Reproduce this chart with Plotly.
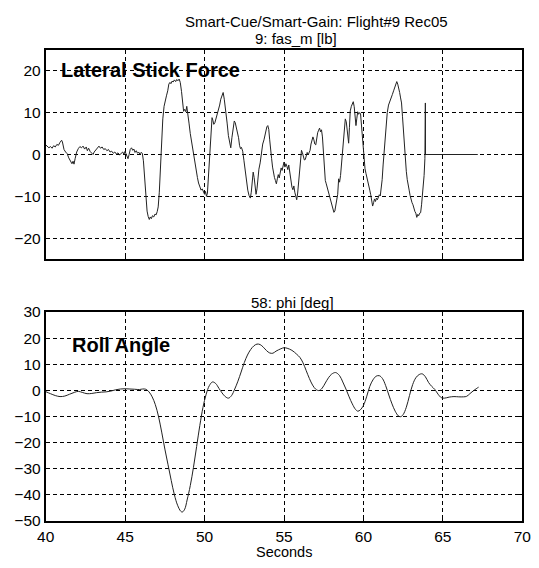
import plotly.graph_objects as go

# ---- data: lateral stick force (lb) ----
force_t = [40.00,40.10,40.20,40.30,40.40,40.50,40.60,40.70,40.80,40.90,41.00,41.05,41.15,41.25,41.35,41.45,41.55,41.65,41.72,41.78,41.85,41.95,
           42.05,42.15,42.25,42.35,42.45,42.55,42.62,42.70,42.80,42.90,42.98,43.05,43.15,43.25,43.35,43.45,43.55,43.65,43.75,43.85,43.95,
           44.05,44.15,44.25,44.35,44.45,44.55,44.65,44.75,44.85,44.92,45.00,45.05,45.12,45.18,45.25,45.32,45.40,45.48,45.55,45.62,45.70,
           45.78,45.85,45.92,46.00,46.08,46.15,46.22,46.30,46.38,46.45,46.52,46.58,46.65,46.72,46.80,46.88,46.95,47.02,47.08,47.15,47.22,
           47.30,47.37,47.45,47.52,47.60,47.68,47.75,47.82,47.88,47.95,48.02,48.10,48.18,48.25,48.32,48.40,48.47,48.55,48.62,48.68,48.75,
           48.82,48.88,48.95,49.02,49.10,49.18,49.25,49.32,49.40,49.48,49.55,49.62,49.70,49.78,49.85,49.92,50.00,50.06,50.12,50.18,50.25,
           50.32,50.40,50.47,50.52,50.58,50.65,50.72,50.80,50.88,50.95,51.02,51.10,51.17,51.24,51.30,51.36,51.42,51.50,51.58,51.65,51.72,
           51.80,51.87,51.93,52.00,52.07,52.14,52.20,52.26,52.32,52.40,52.48,52.56,52.64,52.72,52.80,52.88,52.94,53.00,53.06,53.12,53.18,
           53.24,53.30,53.36,53.42,53.50,53.58,53.66,53.74,53.80,53.86,53.92,53.98,54.04,54.10,54.16,54.22,54.28,54.34,54.40,54.46,54.52,
           54.58,54.64,54.70,54.76,54.82,54.88,54.94,55.00,55.06,55.12,55.18,55.24,55.30,55.36,55.42,55.50,55.56,55.62,55.68,55.74,55.80,
           55.86,55.92,55.98,56.04,56.10,56.16,56.22,56.28,56.34,56.40,56.46,56.52,56.58,56.64,56.70,56.76,56.82,56.88,56.94,57.00,57.06,
           57.12,57.18,57.24,57.30,57.36,57.42,57.48,57.54,57.60,57.66,57.72,57.78,57.84,57.90,57.96,58.02,58.08,58.14,58.20,58.26,58.32,
           58.38,58.44,58.50,58.56,58.62,58.68,58.74,58.80,58.86,58.92,58.97,59.02,59.07,59.12,59.17,59.24,59.30,59.36,59.42,59.48,59.53,
           59.58,59.64,59.70,59.76,59.82,59.88,59.94,59.98,60.04,60.10,60.16,60.22,60.28,60.34,60.40,60.46,60.52,60.58,60.64,60.70,60.76,
           60.82,60.88,60.94,61.00,61.06,61.12,61.18,61.24,61.30,61.36,61.42,61.50,61.58,61.66,61.74,61.82,61.90,61.98,62.04,62.10,62.16,
           62.22,62.28,62.34,62.40,62.46,62.52,62.58,62.64,62.70,62.76,62.82,62.88,62.94,63.00,63.06,63.12,63.18,63.24,63.30,63.36,63.42,
           63.48,63.54,63.60,63.66,63.72,63.77,63.82,63.87,63.90,63.91,67.20]
force_v = [2.3,2.0,1.6,1.9,1.5,2.1,1.8,2.4,2.2,2.9,3.4,3.0,1.2,0.6,0.2,-0.8,-1.5,-2.2,-1.6,-2.3,-1.0,0.6,
           1.4,1.9,1.6,2.0,1.3,1.8,0.9,1.5,0.7,0.2,0.0,0.6,1.1,1.6,2.0,1.5,1.8,1.2,1.4,0.9,1.2,
           0.6,0.8,0.3,0.6,0.1,0.4,-0.1,0.2,0.6,0.0,0.8,0.2,-0.5,-1.0,0.0,1.2,1.6,1.0,1.3,0.5,0.9,
           0.3,0.6,0.1,0.5,0.3,-1.5,-5.0,-10.0,-13.5,-14.8,-15.5,-14.9,-15.3,-14.6,-14.9,-14.2,-14.4,-13.6,-12.5,-9.0,-3.0,
           3.5,8.5,11.5,13.0,14.0,15.2,16.8,17.2,16.9,17.5,17.3,17.8,17.4,17.9,17.6,18.0,17.2,15.0,12.5,10.3,10.8,
           10.2,11.5,9.8,7.5,5.0,3.0,1.5,0.5,-1.5,-3.5,-5.5,-6.8,-7.5,-8.5,-8.2,-9.0,-9.5,-8.8,-10.0,-9.2,-5.0,
           0.5,5.0,8.8,8.2,7.2,7.6,8.5,9.5,10.3,11.8,13.2,14.0,14.8,13.2,11.6,10.0,7.5,4.5,2.5,1.6,4.0,
           7.0,8.0,7.6,6.4,6.0,4.0,2.2,1.4,1.7,0.8,-1.5,-4.0,-6.5,-8.5,-9.8,-10.4,-9.0,-6.5,-4.2,-5.5,-8.0,
           -9.5,-8.2,-5.5,-3.5,-2.0,0.5,2.5,3.5,4.8,5.8,6.6,6.9,6.0,3.5,0.5,-1.0,-3.0,-4.8,-5.5,-6.2,-7.0,
           -5.8,-4.8,-5.6,-4.0,-3.2,-3.8,-2.2,-1.8,-3.0,-2.2,-2.8,-3.6,-2.5,-4.5,-6.0,-7.8,-8.4,-7.5,-9.0,-10.0,-10.8,
           -9.2,-6.5,-3.0,0.2,1.0,0.4,-0.5,-1.3,-1.2,-0.2,0.5,-0.1,0.6,1.0,2.5,3.8,4.2,3.5,2.5,2.3,4.0,
           5.2,5.8,6.3,5.4,5.9,4.2,0.5,-3.5,-6.2,-7.0,-7.8,-8.5,-9.3,-10.2,-11.5,-12.2,-13.0,-13.8,-13.5,-12.0,-11.0,
           -9.5,-5.8,-6.6,-5.0,-2.0,0.2,3.5,6.5,8.5,7.8,6.2,4.5,2.7,6.5,10.4,11.5,12.3,12.6,11.4,9.0,6.9,
           8.5,10.2,9.6,10.0,9.7,7.0,3.0,0.8,-1.5,-3.4,-4.5,-5.4,-6.0,-7.4,-8.5,-9.6,-10.9,-12.3,-11.5,-10.6,-11.2,
           -10.4,-10.8,-10.2,-9.6,-9.9,-8.5,-6.0,-2.5,0.8,4.0,7.0,10.0,11.8,12.8,13.9,14.3,15.2,16.3,17.0,17.4,16.8,
           16.0,14.8,13.5,12.3,9.0,5.0,1.5,-1.5,-4.0,-6.0,-7.0,-8.5,-9.8,-10.8,-11.5,-12.0,-13.1,-13.6,-14.0,-15.0,-14.3,
           -14.6,-14.0,-13.9,-12.0,-9.5,-8.5,-5.0,-1.0,12.3,0.0,0.0]

# ---- data: roll angle (deg) ----
roll_t = [40.0,40.3,40.6,40.9,41.2,41.5,41.8,42.05,42.3,42.6,42.9,43.2,43.5,43.8,44.1,44.4,44.7,45.0,45.3,45.6,45.9,46.1,46.3,
          46.5,46.7,46.9,47.1,47.3,47.5,47.7,47.9,48.1,48.3,48.5,48.6,48.75,48.9,49.1,49.3,49.5,49.7,49.9,50.1,50.3,50.5,50.7,
          50.9,51.1,51.3,51.5,51.7,51.9,52.1,52.3,52.5,52.7,52.9,53.1,53.3,53.5,53.7,53.9,54.1,54.3,54.5,54.8,55.0,55.2,55.5,
          55.8,56.0,56.2,56.4,56.6,56.8,57.0,57.2,57.4,57.6,57.8,58.0,58.25,58.5,58.7,58.9,59.1,59.3,59.5,59.65,59.8,60.0,60.2,
          60.4,60.6,60.8,61.0,61.2,61.4,61.6,61.8,62.0,62.2,62.35,62.5,62.7,62.9,63.1,63.3,63.5,63.7,63.9,64.1,64.3,64.5,64.7,
          64.9,65.1,65.4,65.7,66.0,66.3,66.5,66.7,66.9,67.1,67.25]
roll_v = [-0.5,-1.3,-2.0,-2.4,-2.2,-1.5,-0.8,-0.4,-0.8,-1.3,-1.2,-0.9,-0.7,-0.6,-0.3,0.2,0.5,0.6,0.5,0.4,0.3,0.5,0.4,
          -0.6,-2.5,-5.5,-10.0,-16.0,-22.5,-28.5,-34.5,-40.0,-44.0,-46.3,-46.6,-45.5,-42.0,-36.5,-29.5,-21.5,-13.5,-6.5,-1.5,1.8,3.2,2.6,
          0.8,-1.0,-2.4,-3.0,-2.0,0.5,3.5,7.0,10.6,13.5,15.6,17.0,17.7,17.5,16.5,15.2,14.3,14.2,15.0,15.9,16.3,16.1,15.3,
          13.8,12.6,10.5,7.5,4.5,2.0,0.4,-0.1,0.8,2.8,4.8,6.2,6.8,5.6,3.2,0.5,-2.5,-5.2,-7.3,-8.0,-7.5,-5.8,-2.5,
          1.5,4.0,5.4,5.6,4.5,1.8,-1.8,-5.2,-8.0,-9.8,-10.1,-9.3,-6.5,-2.0,2.2,4.8,6.0,6.3,5.2,3.0,1.5,0.3,-1.5,
          -2.8,-3.0,-2.6,-2.4,-2.5,-2.5,-2.3,-1.3,-0.3,0.6,1.2]

x_ticks = [40, 45, 50, 55, 60, 65, 70]
force_ticks = [-20, -10, 0, 10, 20]
roll_ticks = [-50, -40, -30, -20, -10, 0, 10, 20, 30]

W, H = 539, 568
FONT = "Helvetica, Liberation Sans, Arial, sans-serif"

def px(x):
    return x / W

def py(y):
    return 1 - y / H

fig = go.Figure()
fig.add_trace(go.Scatter(x=force_t, y=force_v, mode="lines",
                         line=dict(color="#222222", width=1), xaxis="x", yaxis="y",
                         showlegend=False, hoverinfo="skip"))
fig.add_trace(go.Scatter(x=roll_t, y=roll_v, mode="lines", line_shape="spline",
                         line=dict(color="#222222", width=1), xaxis="x2", yaxis="y2",
                         showlegend=False, hoverinfo="skip"))

axis_common = dict(showline=True, linecolor="black", linewidth=2, mirror="ticks",
                   ticks="inside", ticklen=4, tickcolor="black", tickwidth=1,
                   showgrid=True, gridcolor="black", gridwidth=1, griddash="4px,3px",
                   zeroline=False, ticklabeloverflow="allow",
                   tickfont=dict(family=FONT, size=15.5, color="black"))

xdom = [px(38), px(531)]
fig.update_layout(
    width=W, height=H,
    margin=dict(l=0, r=0, t=0, b=0),
    paper_bgcolor="white", plot_bgcolor="white",
    xaxis=dict(domain=xdom, range=[40, 70], tickvals=x_ticks, showticklabels=False,
               anchor="y", **axis_common),
    yaxis=dict(domain=[py(258), py(42)], range=[-25, 25], tickvals=force_ticks,
               anchor="x", **axis_common),
    xaxis2=dict(domain=xdom, range=[40, 70], tickvals=x_ticks, anchor="y2", **axis_common),
    yaxis2=dict(domain=[py(527.7), py(312.3)], range=[-50, 30], tickvals=roll_ticks,
                anchor="x2", **axis_common),
)

def txt(s, x, y, size, xanchor="center", bold=False):
    fig.add_annotation(text=f"<b>{s}</b>" if bold else s, x=px(x), y=py(y),
                       xref="paper", yref="paper", xanchor=xanchor, yanchor="middle",
                       showarrow=False, font=dict(family=FONT, size=size, color="black"))

txt("Smart-Cue/Smart-Gain: Flight#9 Rec05", 318, 13, 15)
txt("9: fas_m [lb]", 297, 30, 15)
txt("58: phi [deg]", 293, 303, 15)
txt("Seconds", 285, 560, 14.5)
txt("Lateral Stick Force", 52, 63, 20, xanchor="left", bold=True)
txt("Roll Angle", 63, 346, 20, xanchor="left", bold=True)

fig.write_html("out.html")
